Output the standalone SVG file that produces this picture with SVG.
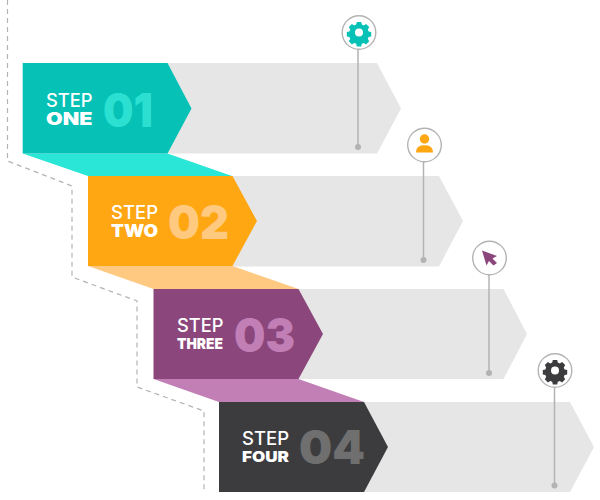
<svg xmlns="http://www.w3.org/2000/svg" width="600" height="500" viewBox="0 0 600 500">
<style>
.gray{fill:#e6e6e6}
.s{font-family:"Inter","Liberation Sans",sans-serif;font-size:18px;font-weight:500;fill:#fff}
.n{font-family:"Inter","Liberation Sans",sans-serif;font-size:17.500px;font-weight:900;fill:#fff}
.d{font-family:"Inter","Liberation Sans",sans-serif;font-size:47px;font-weight:900}
.ring{fill:#fff;stroke:#b3b3b3;stroke-width:1.4}
.stem{fill:none;stroke:#b3b3b3;stroke-width:1.5}
.dot{fill:#b3b3b3}
</style>
<defs>
<g id="gear">
<path d="M-2.200-10.500h4.400l.6 2.600 2 .8 2.300-1.400 3.100 3.100-1.400 2.300.8 2 2.600.6v4.400l-2.600.6-.8 2 1.400 2.300-3.100 3.100-2.300-1.400-2 .8-.6 2.600h-4.400l-.6-2.600-2-.8-2.300 1.400-3.100-3.100 1.400-2.300-.8-2-2.600-.6v-4.400l2.600-.6.8-2-1.400-2.300 3.100-3.100 2.300 1.400 2-.8z"/>
<circle r="4" fill="#fff"/>
</g>
</defs>
<g id="connectors">
<path d="M7.500 0V161L72 186V277L137 301V387L204 411V492" fill="none" stroke="#b3b3b3" stroke-width="1.200" stroke-dasharray="5 4"/>
</g>
<g id="step1">
<polygon class="gray" points="160,63 377,63 401,108.500 377,153.500 160,153.500"/>
<polygon fill="#29e6d6" points="22.700,153.500 167.500,153.500 232,176 88,176"/>
<polygon fill="#05c1b6" points="22.700,63 167.500,63 191.500,108.500 167.500,153.500 22.700,153.500"/>
<text class="s" x="46" y="107" textLength="46.500" lengthAdjust="spacingAndGlyphs">STEP</text>
<text class="n" x="46" y="125" textLength="46.500" lengthAdjust="spacingAndGlyphs">ONE</text>
<text class="d" x="103" y="126.700" fill="#2be0d1" textLength="50" lengthAdjust="spacingAndGlyphs">01</text>
</g>
<g id="step2">
<polygon class="gray" points="225,176 439,176 463,221 439,266.500 225,266.500"/>
<polygon fill="#ffc981" points="88,266 232.500,266 298.500,289 153.500,289"/>
<polygon fill="#ffa613" points="88,176 232.500,176 257,221 232.500,266 88,266"/>
<text class="s" x="111" y="219.300" textLength="47" lengthAdjust="spacingAndGlyphs">STEP</text>
<text class="n" x="111" y="237" textLength="47" lengthAdjust="spacingAndGlyphs">TWO</text>
<text class="d" x="168" y="238.500" fill="#ffc97f" textLength="61" lengthAdjust="spacingAndGlyphs">02</text>
</g>
<g id="step3">
<polygon class="gray" points="290,289 503.500,289 527,334 503.500,379 290,379"/>
<polygon fill="#c17fb6" points="153.500,379 298.500,379 364,402 219,402"/>
<polygon fill="#8b477c" points="153.500,289 298.500,289 323,334 298.500,379 153.500,379"/>
<text class="s" x="177" y="332" textLength="46.500" lengthAdjust="spacingAndGlyphs">STEP</text>
<text class="n" x="177" y="349" font-size="15" style="font-size:15px" textLength="46" lengthAdjust="spacingAndGlyphs">THREE</text>
<text class="d" x="234" y="351.500" fill="#c17fb6" textLength="61" lengthAdjust="spacingAndGlyphs">03</text>
</g>
<g id="step4">
<polygon class="gray" points="355,402 570,402 594,447 570,492 355,492"/>
<polygon fill="#3c3c3e" points="219,402 364,402 388,447 364,492 219,492"/>
<text class="s" x="242" y="445" textLength="47" lengthAdjust="spacingAndGlyphs">STEP</text>
<text class="n" x="242" y="462" style="font-size:15px" textLength="47" lengthAdjust="spacingAndGlyphs">FOUR</text>
<text class="d" x="299" y="464.300" fill="#6f6f70" textLength="66" lengthAdjust="spacingAndGlyphs">04</text>
</g>
<g id="marker1">
<path class="stem" d="M358 49V147"/><circle class="dot" cx="358" cy="147" r="3"/>
<circle class="ring" cx="359" cy="32.500" r="16.800"/>
<use href="#gear" transform="translate(359 32.500)" fill="#05c1b6"/>
</g>
<g id="marker2">
<path class="stem" d="M423.500 162V260"/><circle class="dot" cx="423.500" cy="260" r="3"/>
<circle class="ring" cx="424.500" cy="145" r="16.800"/>
<circle cx="424.500" cy="139" r="4.700" fill="#ffa613"/>
<path d="M416 152.500C416 147 420 145.200 424.500 145.200S433 147 433 152.500Z" fill="#ffa613"/>
</g>
<g id="marker3">
<path class="stem" d="M489 275V373"/><circle class="dot" cx="489" cy="373" r="3"/>
<circle class="ring" cx="489.500" cy="258" r="16.800"/>
<path d="M482 250.500L497 256L492.500 258.500L497 263L493.500 265.500L489 261L486.500 265.500Z" fill="#8b477c"/>
</g>
<g id="marker4">
<path class="stem" d="M554.500 388V485"/><circle class="dot" cx="554.500" cy="485.500" r="3"/>
<circle class="ring" cx="555" cy="370.500" r="16.800"/>
<use href="#gear" transform="translate(555 370.500)" fill="#3c3c3e"/>
</g>
</svg>
